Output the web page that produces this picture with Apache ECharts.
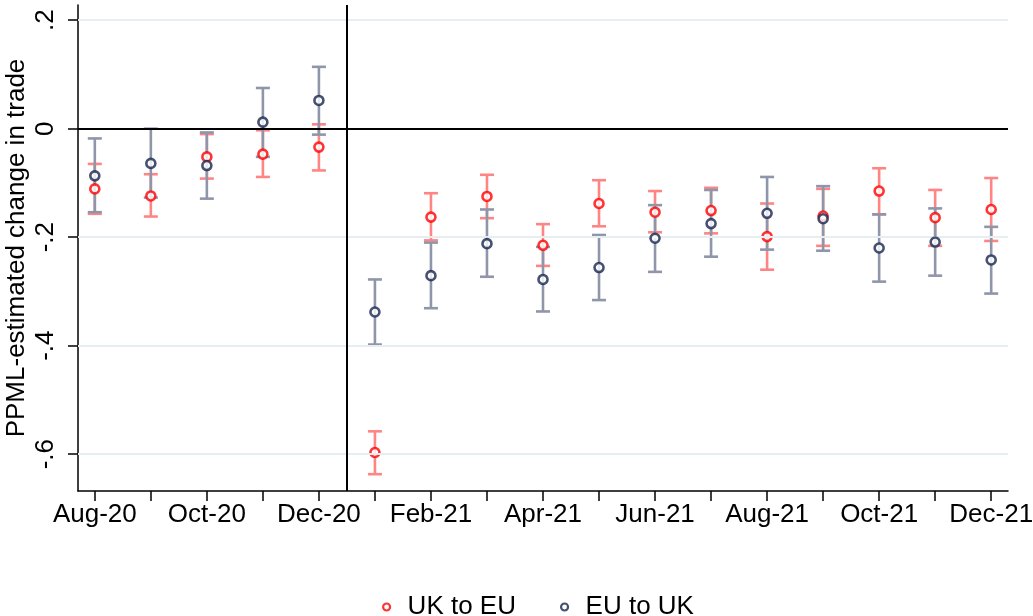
<!DOCTYPE html>
<html>
<head>
<meta charset="utf-8">
<script src="https://cdn.jsdelivr.net/npm/echarts@6/dist/echarts.min.js"></script>
<style>
html,body{margin:0;padding:0;background:#fff;}
#chart{width:1033px;height:616px;}
</style>
</head>
<body>
<div id="chart"></div>
<script>
const months = ["Aug-20","Sep-20","Oct-20","Nov-20","Dec-20","Jan-21","Feb-21","Mar-21","Apr-21","May-21","Jun-21","Jul-21","Aug-21","Sep-21","Oct-21","Nov-21","Dec-21"];

const ukEst = [-0.111,-0.124,-0.052,-0.047,-0.034,-0.597,-0.163,-0.125,-0.215,-0.138,-0.154,-0.151,-0.199,-0.161,-0.115,-0.164,-0.149];
const ukLo  = [-0.157,-0.162,-0.092,-0.089,-0.077,-0.637,-0.206,-0.165,-0.253,-0.180,-0.191,-0.193,-0.260,-0.216,-0.158,-0.216,-0.207];
const ukHi  = [-0.065,-0.084,-0.010,-0.003,0.008,-0.558,-0.119,-0.085,-0.176,-0.095,-0.115,-0.109,-0.138,-0.111,-0.073,-0.113,-0.091];

const euEst = [-0.087,-0.064,-0.068,0.012,0.052,-0.338,-0.271,-0.212,-0.278,-0.256,-0.202,-0.175,-0.156,-0.166,-0.220,-0.209,-0.242];
const euLo  = [-0.154,-0.127,-0.129,-0.052,-0.011,-0.398,-0.331,-0.273,-0.337,-0.316,-0.264,-0.236,-0.223,-0.225,-0.282,-0.271,-0.304];
const euHi  = [-0.018,0.000,-0.007,0.075,0.114,-0.278,-0.210,-0.149,-0.218,-0.196,-0.141,-0.113,-0.089,-0.106,-0.158,-0.147,-0.181];

const yTickValues = [-0.6,-0.4,-0.2,0,0.2];
const yTickLabels = ["-.6","-.4","-.2","0",".2"];
const xTickLabelIdx = [0,2,4,6,8,10,12,14,16];
const breakAt = 4.5;

const FONT = "'Liberation Sans', Arial, Helvetica, sans-serif";
const RED = '#ff0000', RED_CI = '#ff8585';
const NAVY = '#18264f', NAVY_CI = '#8f96aa';

function errBar(color){
  return function(params, api){
    const x = api.value(0), lo = api.value(1), hi = api.value(2);
    const pLo = api.coord([x, lo]), pHi = api.coord([x, hi]);
    const hw = 7;
    const st = {stroke: color, lineWidth: 2.6};
    return {type:'group', children:[
      {type:'line', shape:{x1:pLo[0], y1:pLo[1], x2:pHi[0], y2:pHi[1]}, style:st},
      {type:'line', shape:{x1:pLo[0]-hw, y1:pLo[1], x2:pLo[0]+hw, y2:pLo[1]}, style:st},
      {type:'line', shape:{x1:pHi[0]-hw, y1:pHi[1], x2:pHi[0]+hw, y2:pHi[1]}, style:st}
    ]};
  };
}

const chart = echarts.init(document.getElementById('chart'), null, {renderer:'canvas'});
const option = {
  animation:false,
  backgroundColor:'#fff',
  grid:{left:78, right:25, top:5, bottom:125, containLabel:false, outerBoundsMode:'none'},
  xAxis:{
    type:'value', min:-0.3, max:16.3,
    axisLine:{show:true, onZero:false, lineStyle:{color:'#000', width:1.5}},
    axisTick:{show:true, length:10, lineStyle:{color:'#000', width:1.5}, customValues: months.map((m,i)=>i)},
    axisLabel:{show:true, color:'#000', fontSize:26, fontFamily:FONT, margin:11,
      customValues: xTickLabelIdx,
      formatter: v => months[Math.round(v)] || ''},
    splitLine:{show:false}
  },
  yAxis:{
    type:'value', min:-0.668, max:0.228,
    name:'PPML-estimated change in trade', nameLocation:'middle', nameRotate:90, nameGap:48,
    nameMoveOverlap:false,
    nameTextStyle:{color:'#000', fontSize:26, fontFamily:FONT},
    axisLine:{show:true, onZero:false, lineStyle:{color:'#000', width:1.5}},
    axisTick:{show:true, length:10, lineStyle:{color:'#000', width:1.5}, customValues: yTickValues},
    axisLabel:{show:true, rotate:90, color:'#000', fontSize:26, fontFamily:FONT, margin:19,
      customValues: yTickValues,
      formatter: v => { const i = yTickValues.findIndex(t => Math.abs(t - v) < 1e-6); return i >= 0 ? yTickLabels[i] : ''; }},
    splitLine:{show:false}
  },
  legend:{
    show:true, left:377, top:589, orient:'horizontal',
    itemWidth:32, itemHeight:7, itemGap:44,
    textStyle:{color:'#000', fontSize:26, fontFamily:FONT},
    data:[
      {name:'UK to EU', icon:'circle', itemStyle:{color:'#fff', borderColor:RED, borderWidth:2.2}},
      {name:'EU to UK', icon:'circle', itemStyle:{color:'#fff', borderColor:NAVY, borderWidth:2.2}}
    ]
  },
  series:[
    {
      type:'scatter', name:'refs', data:[], z:1, silent:true,
      markLine:{
        silent:true, symbol:'none', animation:false, label:{show:false},
        data:[
          ...yTickValues.filter(v => v !== 0).map(v => ({yAxis:v, lineStyle:{color:'#e6eef1', width:2, type:'solid'}})),
          {yAxis:0, lineStyle:{color:'#000', width:2, type:'solid'}},
          {xAxis:breakAt, lineStyle:{color:'#000', width:2, type:'solid'}}
        ]
      }
    },
    {
      type:'custom', name:'UK CI', z:2, renderItem: errBar(RED_CI),
      data: months.map((m,i)=>[i, ukLo[i], ukHi[i]]), silent:true
    },
    {
      type:'custom', name:'EU CI', z:3, renderItem: errBar(NAVY_CI),
      data: months.map((m,i)=>[i, euLo[i], euHi[i]]), silent:true
    },
    {
      type:'scatter', name:'UK to EU', z:4, symbol:'circle', symbolSize:9,
      itemStyle:{color:'#fff', borderColor:RED, borderWidth:2.6},
      data: months.map((m,i)=>[i, ukEst[i]])
    },
    {
      type:'scatter', name:'EU to UK', z:5, symbol:'circle', symbolSize:9,
      itemStyle:{color:'#fff', borderColor:NAVY, borderWidth:2.6},
      data: months.map((m,i)=>[i, euEst[i]])
    }
  ]
};
chart.setOption(option);
</script>
</body>
</html>
